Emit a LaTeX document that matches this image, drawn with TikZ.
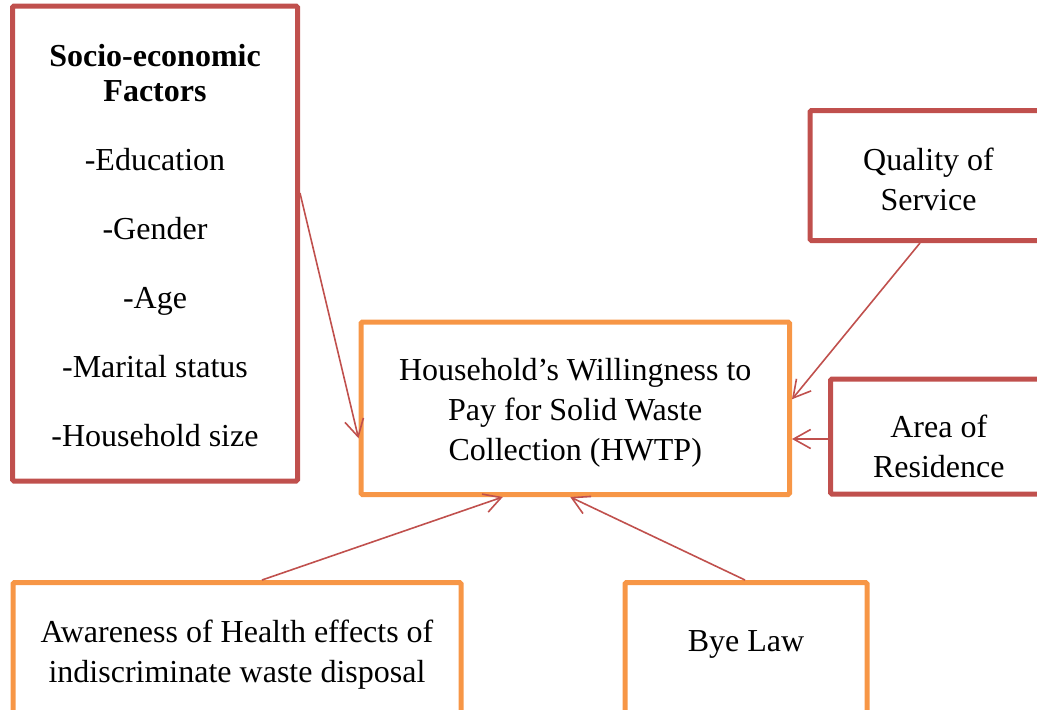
\documentclass[tikz,border=0pt]{standalone}
\usepackage{fontspec}
\setmainfont{Liberation Serif}
\usetikzlibrary{arrows.meta}
\definecolor{boxred}{HTML}{C0504D}
\definecolor{boxorange}{HTML}{F79646}
\newcommand{\shiftedlines}[2]{\raisebox{#1}[0pt][0pt]{\begin{tabular}{@{}c@{}}#2\end{tabular}}}
\begin{document}
\begin{tikzpicture}[x=1pt,y=-1pt,
  redbox/.style={draw=boxred,line width=5pt,rounded corners=1.5pt,inner sep=0pt,align=center,font=\fontsize{32}{40}\selectfont},
  orangebox/.style={draw=boxorange,line width=5pt,rounded corners=1.5pt,inner sep=0pt,align=center,font=\fontsize{32}{40}\selectfont},
  conn/.style={draw=boxred,line width=1.6pt,-{Straight Barb[length=17pt,width=19pt,line width=1.6pt]}}]
\useasboundingbox (0,0) rectangle (1037,710);
\clip (0,0) rectangle (1037,710);
\node[redbox,minimum width=285pt,minimum height=475pt] (socio) at (155,243.5)
  {\rule{0pt}{26pt}\textbf{Socio-economic}\\[-5pt]\textbf{Factors}\\[29pt]-Education\\[29pt]-Gender\\[29pt]-Age\\[29pt]-Marital status\\[29pt]-Household size};
\node[redbox,minimum width=237pt,minimum height=130pt] (quality) at (928.5,175.5) {\shiftedlines{-13pt}{Quality of\\Service}};
\node[redbox,minimum width=216.5pt,minimum height=115pt] (area) at (938.75,436.5) {\shiftedlines{-19.5pt}{Area of\\Residence}};
\node[orangebox,minimum width=428.5pt,minimum height=172.5pt] (hwtp) at (575.25,408.25) {\shiftedlines{-10.25pt}{Household’s Willingness to\\Pay for Solid Waste\\Collection (HWTP)}};
\node[orangebox,minimum width=448pt,minimum height=135pt] (aware) at (237,650) {\shiftedlines{-11pt}{Awareness of Health effects of\\indiscriminate waste disposal}};
\node[orangebox,minimum width=242pt,minimum height=135pt] (bye) at (746,650) {\raisebox{-1pt}[0pt][0pt]{Bye Law}};
\draw[conn] ([yshift=50.5pt]socio.east) -- ([yshift=-30pt]hwtp.west);
\draw[conn] ([xshift=-8.5pt]quality.south) -- ([yshift=9pt]hwtp.east);
\draw[conn] ([yshift=-2.5pt]area.west) -- ([yshift=-30.75pt]hwtp.east);
\draw[conn] ([xshift=25pt]aware.north) -- ([xshift=-72.5pt]hwtp.south);
\draw[conn] ([xshift=-1pt]bye.north) -- ([xshift=-5pt]hwtp.south);
\end{tikzpicture}
\end{document}
